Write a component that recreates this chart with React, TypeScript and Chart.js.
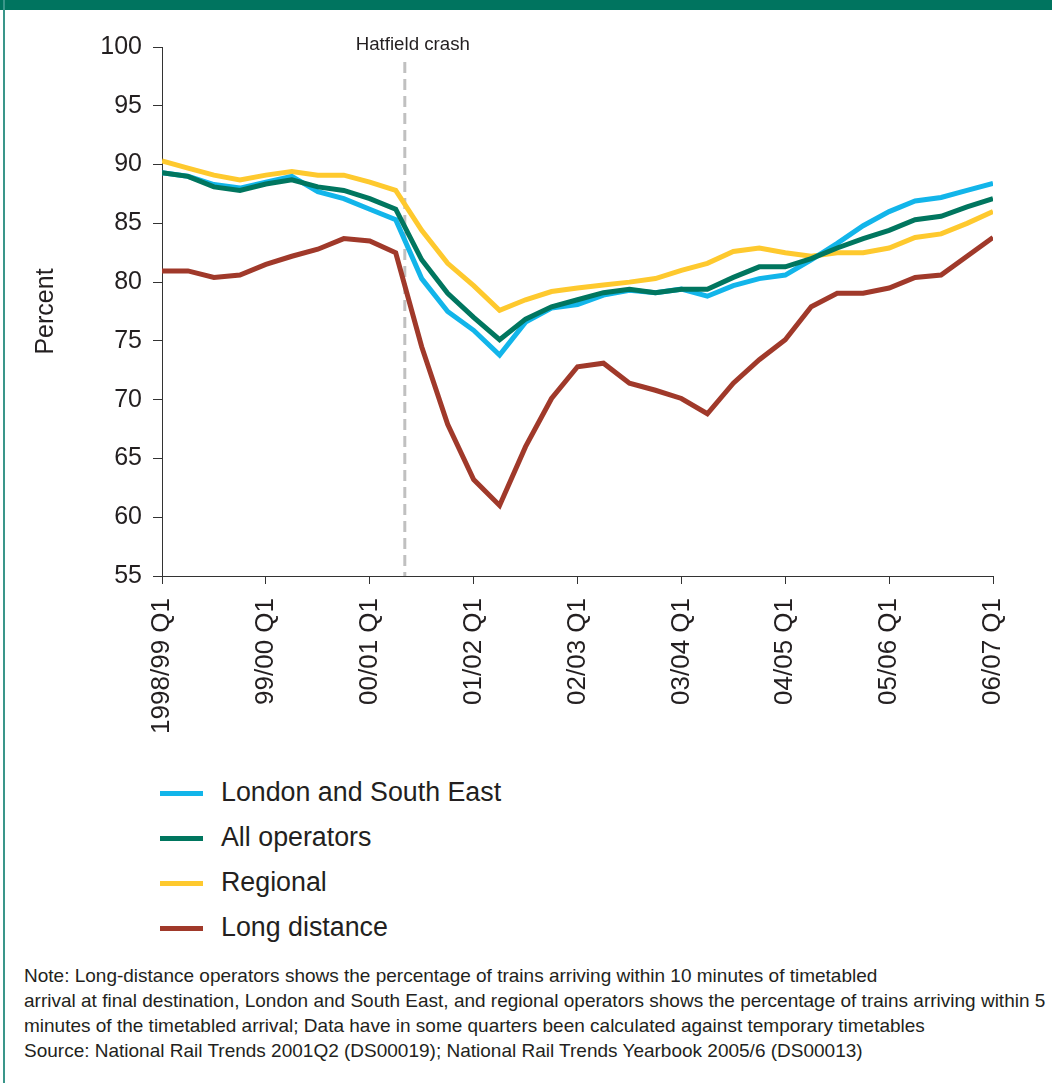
import React, { useEffect, useRef } from 'react';
import { Chart, registerables } from 'chart.js';

Chart.register(...registerables);

const FONT = '"Liberation Sans", Arial, Helvetica, sans-serif';
const TEXT = '#231f20';

const quarters = [
  '1998/99 Q1', '1998/99 Q2', '1998/99 Q3', '1998/99 Q4',
  '99/00 Q1', '99/00 Q2', '99/00 Q3', '99/00 Q4',
  '00/01 Q1', '00/01 Q2', '00/01 Q3', '00/01 Q4',
  '01/02 Q1', '01/02 Q2', '01/02 Q3', '01/02 Q4',
  '02/03 Q1', '02/03 Q2', '02/03 Q3', '02/03 Q4',
  '03/04 Q1', '03/04 Q2', '03/04 Q3', '03/04 Q4',
  '04/05 Q1', '04/05 Q2', '04/05 Q3', '04/05 Q4',
  '05/06 Q1', '05/06 Q2', '05/06 Q3', '05/06 Q4',
  '06/07 Q1',
];

const londonSouthEast = [
  89.3, 89.0, 88.3, 88.0, 88.5, 89.0, 87.7, 87.1, 86.2, 85.3,
  80.3, 77.5, 75.9, 73.8, 76.6, 77.8, 78.1, 78.9, 79.3, 79.1,
  79.4, 78.8, 79.7, 80.3, 80.6, 81.9, 83.3, 84.8, 86.0, 86.9,
  87.2, 87.8, 88.4,
];

const allOperators = [
  89.3, 89.0, 88.1, 87.8, 88.35, 88.7, 88.1, 87.8, 87.1, 86.2,
  81.9, 79.05, 77.0, 75.1, 76.85, 77.9, 78.5, 79.1, 79.4, 79.1,
  79.4, 79.4, 80.4, 81.3, 81.3, 82.0, 82.9, 83.7, 84.4, 85.3,
  85.6, 86.4, 87.1,
];

const regional = [
  90.3, 89.7, 89.1, 88.7, 89.1, 89.4, 89.1, 89.1, 88.5, 87.8,
  84.4, 81.6, 79.7, 77.6, 78.5, 79.2, 79.5, 79.75, 80.0, 80.3,
  81.0, 81.6, 82.6, 82.9, 82.5, 82.2, 82.5, 82.5, 82.9, 83.8,
  84.1, 85.0, 86.0,
];

const longDistance = [
  80.95, 80.95, 80.4, 80.6, 81.5, 82.2, 82.8, 83.7, 83.5, 82.5,
  74.5, 67.9, 63.2, 61.0, 66.0, 70.1, 72.8, 73.1, 71.4, 70.8,
  70.1, 68.8, 71.4, 73.4, 75.1, 77.9, 79.05, 79.05, 79.5, 80.4,
  80.6, 82.2, 83.8,
];

const seriesNames = ['London and South East', 'All operators', 'Regional', 'Long distance'];
const seriesColors = ['#12b5ea', '#00765f', '#fec92e', '#a0392a'];
const seriesValues = [londonSouthEast, allOperators, regional, longDistance];
const seriesOrder = [1, 0, 2, 3];

const hatfieldPosition = 9.35;
const hatfieldLabel = 'Hatfield crash';

const noteLines = [
  'Note: Long-distance operators shows the percentage of trains arriving within 10 minutes of timetabled',
  'arrival at final destination, London and South East, and regional operators shows the percentage of trains arriving within 5',
  'minutes of the timetabled arrival; Data have in some quarters been calculated against temporary timetables',
  'Source: National Rail Trends 2001Q2 (DS00019); National Rail Trends Yearbook 2005/6 (DS00013)',
];

const hatfieldPlugin = {
  id: 'hatfield',
  beforeDatasetsDraw(chart: any) {
    const { ctx, chartArea, scales } = chart;
    const x = scales.x.getPixelForValue(hatfieldPosition);
    ctx.save();
    ctx.strokeStyle = '#c0c0c0';
    ctx.lineWidth = 3;
    ctx.setLineDash([11, 6]);
    ctx.beginPath();
    ctx.moveTo(x, 62);
    ctx.lineTo(x, chartArea.bottom);
    ctx.stroke();
    ctx.setLineDash([]);
    ctx.fillStyle = TEXT;
    ctx.font = `18.7px ${FONT}`;
    ctx.textAlign = 'center';
    ctx.textBaseline = 'middle';
    ctx.fillText(hatfieldLabel, x + 8, 45);
    ctx.restore();
  },
};

export default function App() {
  const canvasRef = useRef<HTMLCanvasElement | null>(null);

  useEffect(() => {
    if (!canvasRef.current) return;
    const chart = new Chart(canvasRef.current, {
      type: 'line',
      data: {
        datasets: seriesNames.map((name, k) => ({
          label: name,
          data: seriesValues[k].map((v, i) => ({ x: i, y: v })),
          borderColor: seriesColors[k],
          backgroundColor: seriesColors[k],
          borderWidth: 5,
          pointRadius: 0,
          tension: 0,
          fill: false,
          order: seriesOrder[k],
        })),
      },
      options: {
        animation: false,
        responsive: false,
        maintainAspectRatio: false,
        layout: { padding: { left: 0, right: 59, top: 47, bottom: 4 } },
        plugins: {
          legend: { display: false },
          tooltip: { enabled: false },
        },
        scales: {
          x: {
            type: 'linear',
            min: 0,
            max: quarters.length - 1,
            afterFit: (s: any) => {
              s.height = 180;
              s.paddingLeft = 0;
              s.paddingRight = 0;
            },
            ticks: {
              stepSize: 4,
              autoSkip: false,
              minRotation: 90,
              maxRotation: 90,
              padding: 14,
              color: TEXT,
              font: { family: FONT, size: 26 },
              callback: (v: any) => quarters[v] ?? '',
            },
            grid: {
              drawOnChartArea: false,
              drawTicks: true,
              tickLength: 8,
              tickColor: '#333333',
              tickWidth: 1,
            },
            border: { display: true, color: '#333333', width: 1 },
          },
          y: {
            min: 55,
            max: 100,
            afterFit: (s: any) => {
              s.width = 162;
              s.paddingTop = 0;
              s.paddingBottom = 0;
            },
            ticks: {
              stepSize: 5,
              padding: 11,
              color: TEXT,
              font: { family: FONT, size: 25 },
            },
            grid: {
              drawOnChartArea: false,
              drawTicks: true,
              tickLength: 9,
              tickColor: '#333333',
              tickWidth: 1,
            },
            border: { display: true, color: '#333333', width: 1 },
            title: {
              display: true,
              text: 'Percent',
              color: TEXT,
              font: { family: FONT, size: 25 },
              padding: { top: 31, bottom: 0 },
            },
          },
        },
      },
      plugins: [hatfieldPlugin],
    } as any);
    return () => chart.destroy();
  }, []);

  const legendRows = [793, 838, 883, 928];

  return (
    <div
      style={{
        position: 'absolute',
        left: 0,
        top: 0,
        width: 1052,
        height: 1083,
        background: '#ffffff',
        overflow: 'hidden',
        fontFamily: FONT,
        color: TEXT,
      }}
    >
      <div style={{ position: 'absolute', left: 0, top: 0, width: 1052, height: 760 }}>
        <canvas ref={canvasRef} width={1052} height={760} style={{ width: 1052, height: 760, display: 'block' }} />
      </div>
      <div style={{ position: 'absolute', left: 0, top: 0, width: 1052, height: 10, background: '#00745f' }} />
      <div style={{ position: 'absolute', left: 3, top: 0, width: 2, height: 1083, background: '#3a968a' }} />
      {seriesNames.map((name, k) => (
        <React.Fragment key={name}>
          <div
            style={{
              position: 'absolute',
              left: 160,
              top: legendRows[k] - 2.5,
              width: 43,
              height: 5,
              background: seriesColors[k],
            }}
          />
          <div
            style={{
              position: 'absolute',
              left: 221,
              top: legendRows[k] - 16,
              fontSize: 26.8,
              lineHeight: '30px',
              whiteSpace: 'nowrap',
            }}
          >
            {name}
          </div>
        </React.Fragment>
      ))}
      <div style={{ position: 'absolute', left: 24, top: 963, fontSize: 19, lineHeight: '25px' }}>
        {noteLines.map((line) => (
          <div key={line} style={{ whiteSpace: 'nowrap' }}>
            {line}
          </div>
        ))}
      </div>
    </div>
  );
}
